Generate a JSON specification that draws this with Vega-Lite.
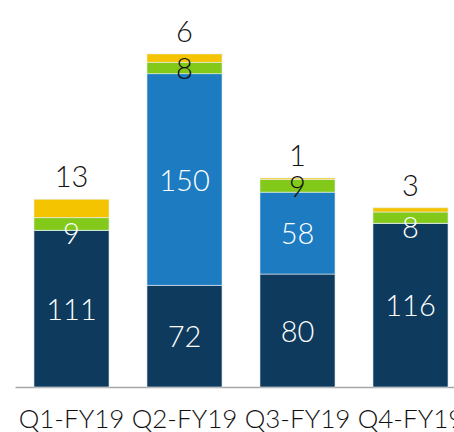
{
  "$schema": "https://vega.github.io/schema/vega-lite/v6.json",
  "autosize": "none",
  "width": 452,
  "height": 367,
  "padding": {"left": 15, "top": 20, "right": 0, "bottom": 45},
  "background": "white",
  "config": {"view": {"stroke": null}, "font": "Lato"},
  "data": {
    "values": [
      {"quarter": "Q1-FY19", "series": "S1", "value": 111},
      {"quarter": "Q1-FY19", "series": "S2", "value": 0},
      {"quarter": "Q1-FY19", "series": "S3", "value": 9},
      {"quarter": "Q1-FY19", "series": "S4", "value": 13},
      {"quarter": "Q2-FY19", "series": "S1", "value": 72},
      {"quarter": "Q2-FY19", "series": "S2", "value": 150},
      {"quarter": "Q2-FY19", "series": "S3", "value": 8},
      {"quarter": "Q2-FY19", "series": "S4", "value": 6},
      {"quarter": "Q3-FY19", "series": "S1", "value": 80},
      {"quarter": "Q3-FY19", "series": "S2", "value": 58},
      {"quarter": "Q3-FY19", "series": "S3", "value": 9},
      {"quarter": "Q3-FY19", "series": "S4", "value": 1},
      {"quarter": "Q4-FY19", "series": "S1", "value": 116},
      {"quarter": "Q4-FY19", "series": "S2", "value": 0},
      {"quarter": "Q4-FY19", "series": "S3", "value": 8},
      {"quarter": "Q4-FY19", "series": "S4", "value": 3}
    ]
  },
  "transform": [
    {"stack": "value", "groupby": ["quarter"], "sort": [{"field": "series", "order": "ascending"}], "as": ["v0", "v1"]},
    {"calculate": "(datum.v0 + datum.v1) / 2", "as": "mid"}
  ],
  "encoding": {
    "x": {
      "field": "quarter",
      "type": "nominal",
      "scale": {"paddingInner": 0.336, "paddingOuter": 0.168},
      "axis": {
        "title": null,
        "labelAngle": 0,
        "ticks": false,
        "domainColor": "#A6A6A6",
        "domainWidth": 1.5,
        "labelFontSize": 26,
        "labelColor": "#111111",
        "labelPadding": 19,
        "labelFont": "Lato",
        "labelFontWeight": 300
      }
    }
  },
  "layer": [
    {
      "mark": {"type": "bar", "stroke": "#e8eef5", "strokeWidth": 0.6},
      "encoding": {
        "y": {"field": "v0", "type": "quantitative", "scale": {"domain": [0, 260]}, "axis": null},
        "y2": {"field": "v1"},
        "color": {
          "field": "series",
          "type": "nominal",
          "scale": {"domain": ["S1", "S2", "S3", "S4"], "range": ["#0E3A5D", "#1C7BC1", "#82C91A", "#F5C400"]},
          "legend": null
        }
      }
    },
    {
      "transform": [{"filter": "(datum.series == 'S1' || datum.series == 'S2') && datum.value > 0"}],
      "mark": {"type": "text", "color": "white", "fontSize": 29, "fontWeight": 300, "baseline": "middle", "dy": 2},
      "encoding": {
        "y": {"field": "mid", "type": "quantitative"},
        "text": {"field": "value", "type": "quantitative"}
      }
    },
    {
      "transform": [{"filter": "datum.series == 'S3' && (datum.quarter == 'Q1-FY19' || datum.quarter == 'Q4-FY19')"}],
      "mark": {"type": "text", "color": "white", "fontSize": 29, "fontWeight": 300, "baseline": "middle", "dy": 11},
      "encoding": {
        "y": {"field": "mid", "type": "quantitative"},
        "text": {"field": "value", "type": "quantitative"}
      }
    },
    {
      "transform": [{"filter": "datum.series == 'S3' && (datum.quarter == 'Q2-FY19' || datum.quarter == 'Q3-FY19')"}],
      "mark": {"type": "text", "color": "#111111", "fontSize": 29, "fontWeight": 300, "baseline": "middle", "dy": 2},
      "encoding": {
        "y": {"field": "mid", "type": "quantitative"},
        "text": {"field": "value", "type": "quantitative"}
      }
    },
    {
      "transform": [{"filter": "datum.series == 'S4'"}],
      "mark": {"type": "text", "color": "#111111", "fontSize": 29, "fontWeight": 300, "baseline": "alphabetic", "dy": -12},
      "encoding": {
        "y": {"field": "v1", "type": "quantitative"},
        "text": {"field": "value", "type": "quantitative"}
      }
    }
  ]
}
